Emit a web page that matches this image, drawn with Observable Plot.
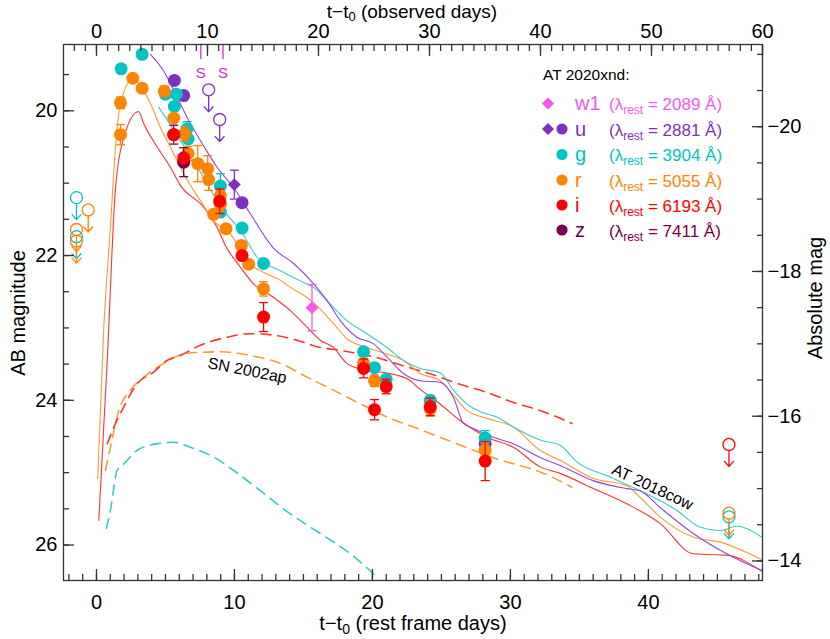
<!DOCTYPE html>
<html>
<head>
<meta charset="utf-8">
<script src="https://cdn.jsdelivr.net/npm/d3@7"></script>
<script src="https://cdn.jsdelivr.net/npm/@observablehq/plot@0.6"></script>
<style>
  html,body{margin:0;padding:0;background:#fff;}
  #chart svg{display:block;}
</style>
</head>
<body>
<div id="chart"></div>
<script>
// ================= DATA =================
const redshift = 0.243;          // AT 2020xnd
const distMod = 40.22;           // AB mag -> absolute mag offset
const xTicksMajor = [0, 10, 20, 30, 40];
const yTicksMajor = [20, 22, 24, 26];
const obsTicksMajor = [0, 10, 20, 30, 40, 50, 60];
const absTicksMajor = [-20, -18, -16, -14];
const spectraObs = [9.4, 11.4];  // observed days of spectra ("S")

const bands = ["w1", "u", "g", "r", "i", "z"];
const lambdas = [2089, 2881, 3904, 5055, 6193, 7411];
const bandColors = ["#ff55ee", "#8030c0", "#00c4c4", "#ff8400", "#ff0000", "#780048"];

// detections: [t - t0 (rest days), AB mag, error]
const w1Obs = [[15.62, 22.72, 0.32]];
const uUvotObs = [[9.99, 21.02, 0.20]];
const uObs = [[5.65, 19.58, 0], [6.32, 19.79, 0], [10.55, 21.27, 0], [28.17, 24.60, 0]];
const gObs = [[1.79, 19.42, 0], [3.31, 19.22, 0], [5.00, 19.77, 0], [5.79, 19.77, 0], [5.65, 19.94, 0],
  [6.57, 20.25, 0.10], [6.64, 20.39, 0], [8.98, 21.04, 0.17], [8.98, 21.40, 0], [10.55, 21.62, 0],
  [12.11, 22.11, 0], [19.36, 23.33, 0], [20.15, 23.55, 0], [21.00, 23.71, 0], [24.19, 24.00, 0],
  [28.17, 24.52, 0.10]];
const rObs = [[1.74, 19.89, 0.08], [1.74, 20.33, 0.14], [2.63, 19.55, 0], [3.31, 19.69, 0.05],
  [4.92, 19.73, 0.07], [5.60, 20.10, 0], [6.39, 20.32, 0.10], [6.64, 20.59, 0.10], [7.34, 20.73, 0.25],
  [8.06, 20.80, 0.18], [8.13, 20.95, 0.15], [8.98, 21.17, 0], [8.98, 21.29, 0.10], [8.49, 21.43, 0],
  [9.39, 21.63, 0], [10.50, 21.86, 0], [11.03, 22.12, 0.05], [12.11, 22.46, 0.10], [19.36, 23.49, 0.05],
  [20.15, 23.73, 0.08], [24.19, 24.12, 0.10], [28.17, 24.69, 0.10]];
const iObs = [[5.60, 20.33, 0], [6.32, 20.65, 0], [8.93, 21.25, 0.17], [10.55, 22.00, 0],
  [12.11, 22.85, 0.20], [19.36, 23.56, 0.13], [20.15, 24.13, 0.14], [21.00, 23.81, 0.10],
  [24.19, 24.09, 0.12], [28.17, 24.84, 0.27]];
const zObs = [[5.60, 20.33, 0.13], [6.32, 20.71, 0.20]];

// upper limits: [t, mag]
const uLim = [[8.13, 19.71], [8.93, 20.12]];
const gLim = [[-1.45, 21.20], [-1.45, 21.74], [45.84, 25.61]];
const rLim = [[-0.60, 21.37], [-1.45, 21.64], [-1.45, 21.80], [45.84, 25.56]];
const iLim = [[45.84, 24.61]];

// AT 2018cow comparison light curves (solid)
const cowU = [[3.91, 19.22], [4.87, 19.45], [5.84, 19.81], [6.81, 20.18], [7.53, 20.41], [8.74, 20.78],
  [9.94, 21.06], [11.14, 21.42], [12.84, 21.90], [14.29, 22.11], [15.74, 22.39], [16.71, 22.62],
  [17.67, 22.90], [18.88, 23.13], [20.08, 23.22], [21.05, 23.40], [22.25, 23.63], [23.46, 23.73],
  [24.91, 23.75], [25.87, 23.96], [26.60, 24.32], [27.32, 24.39], [28.77, 24.51], [30.20, 24.60],
  [32.15, 24.79], [33.60, 24.90], [35.99, 25.11], [38.43, 25.22], [39.39, 25.25], [40.84, 25.48],
  [43.25, 25.84], [45.67, 26.12], [48.20, 26.35]];
const cowG = [[4.51, 19.95], [6.08, 20.41], [7.53, 20.85], [9.22, 21.38], [10.43, 21.65], [11.64, 22.02],
  [13.32, 22.21], [14.77, 22.35], [15.74, 22.44], [16.94, 22.67], [18.15, 22.90], [19.60, 23.08],
  [21.05, 23.27], [22.25, 23.45], [23.46, 23.56], [24.91, 23.62], [25.87, 23.86], [26.84, 24.05],
  [27.81, 24.16], [29.02, 24.23], [30.22, 24.37], [32.15, 24.55], [33.60, 24.62], [34.81, 24.85],
  [37.22, 25.06], [39.63, 25.27], [42.05, 25.52], [43.72, 25.75], [45.17, 25.80], [46.39, 25.74],
  [48.20, 25.89]];
const cowR = [[0.09, 25.08], [0.53, 22.99], [1.01, 21.61], [1.38, 20.50], [1.74, 19.90], [2.63, 19.56],
  [3.31, 19.69], [3.91, 19.90], [4.63, 20.23], [5.36, 20.50], [6.32, 20.87], [7.53, 21.24],
  [8.49, 21.52], [9.70, 21.70], [11.01, 22.10], [12.09, 22.23], [13.32, 22.34], [14.05, 22.44],
  [15.26, 22.58], [16.22, 22.74], [17.18, 22.94], [18.15, 23.15], [19.60, 23.27], [21.05, 23.36],
  [22.25, 23.45], [23.46, 23.63], [24.91, 23.73], [25.87, 23.93], [26.84, 24.14], [28.29, 24.25],
  [30.22, 24.37], [32.15, 24.69], [33.60, 24.83], [36.01, 25.08], [38.43, 25.18], [39.39, 25.34],
  [40.84, 25.61], [43.25, 25.89], [45.21, 25.96], [48.20, 26.20]];
const cowI = [[0.17, 25.66], [0.78, 23.45], [1.38, 21.06], [1.98, 20.37], [3.06, 20.01], [3.43, 20.18],
  [4.40, 20.50], [5.36, 20.78], [6.08, 21.03], [7.77, 21.33], [8.74, 21.61], [9.34, 21.86],
  [10.43, 22.16], [11.39, 22.39], [12.84, 22.58], [14.05, 22.76], [15.26, 22.99], [16.22, 23.17],
  [17.18, 23.27], [18.15, 23.49], [19.60, 23.59], [20.57, 23.61], [22.50, 23.70], [23.46, 23.85],
  [24.77, 24.03], [26.36, 24.28], [28.29, 24.51], [30.22, 24.65], [32.15, 24.92], [33.60, 25.01],
  [36.01, 25.22], [38.43, 25.43], [40.84, 25.70], [43.25, 26.12], [44.22, 26.13], [45.67, 26.14],
  [48.20, 26.36]];

// SN 2002ap comparison light curves (dashed)
const apI = [[0.78, 24.60], [1.38, 24.32], [1.98, 24.09], [2.95, 23.77], [4.15, 23.61], [5.12, 23.45],
  [6.08, 23.38], [7.53, 23.24], [9.22, 23.14], [11.14, 23.08], [12.84, 23.10], [14.53, 23.17],
  [16.22, 23.27], [17.67, 23.31], [20.08, 23.40], [22.50, 23.54], [24.91, 23.68], [25.87, 23.75],
  [28.29, 23.89], [30.22, 24.03], [32.15, 24.14], [34.45, 24.32]];
const apR = [[0.65, 24.97], [1.01, 24.65], [1.62, 24.14], [2.46, 23.86], [3.43, 23.68], [4.63, 23.52],
  [6.57, 23.35], [8.98, 23.33], [11.14, 23.38], [13.32, 23.49], [15.26, 23.68], [17.18, 23.86],
  [19.12, 24.05], [21.05, 24.23], [22.98, 24.37], [26.12, 24.60], [29.02, 24.81], [32.15, 24.99],
  [34.45, 25.20]];
const apG = [[0.72, 25.77], [1.01, 25.52], [1.50, 24.97], [1.98, 24.88], [2.95, 24.69], [4.40, 24.60],
  [5.60, 24.58], [6.81, 24.65], [8.26, 24.76], [9.94, 24.97], [11.88, 25.25], [14.05, 25.57],
  [16.22, 25.84], [18.39, 26.12], [20.44, 26.46]];

// ================= CHART =================
const C = Object.fromEntries(bands.map((b, k) => [b, bandColors[k]]));
const lineCol = {u: "#9444d4", g: "#33cccc", r: "#ff9a30", i: "#ff3030"};
const magenta = "#d030d0";
const FONT = '"Liberation Sans", Arial, Helvetica, sans-serif';
const xDomain = [-2.39, 60 / (1 + redshift)];
const yDomain = [26.49, 19.084];

const capSym = {draw(ctx) { ctx.moveTo(-4.5, 0); ctx.lineTo(4.5, 0); }};
const arrowShape = {draw(ctx, l) {
  ctx.moveTo(0, 0); ctx.lineTo(0, -l);
  ctx.moveTo(-4.5, -l + 5); ctx.lineTo(0, -l); ctx.lineTo(4.5, -l + 5);
}};
const spikeShape = {draw(ctx, l) { ctx.moveTo(0, 0); ctx.lineTo(0, -l); }};

function detections(data, color, symbol = "circle", r = 6.5) {
  const withErr = data.filter(d => d[2] > 0);
  return [
    Plot.ruleX(withErr, {x: d => d[0], y1: d => d[1] - d[2], y2: d => d[1] + d[2], stroke: color, strokeWidth: 1.3}),
    Plot.dot(withErr, {x: d => d[0], y: d => d[1] - d[2], symbol: capSym, r: 3, fill: "none", stroke: color, strokeWidth: 1.3}),
    Plot.dot(withErr, {x: d => d[0], y: d => d[1] + d[2], symbol: capSym, r: 3, fill: "none", stroke: color, strokeWidth: 1.3}),
    Plot.dot(data, {x: d => d[0], y: d => d[1], symbol, r, fill: color, stroke: "none"})
  ];
}
function limits(data, color) {
  return [
    Plot.dot(data, {x: d => d[0], y: d => d[1], r: 6, fill: "none", stroke: color, strokeWidth: 1.3}),
    Plot.vector(data, {x: d => d[0], y: d => d[1], anchor: "start", rotate: 180, length: 16, dy: 6,
      shape: arrowShape, stroke: color, strokeWidth: 1.3})
  ];
}
const curve = (data, color, dashed) => Plot.line(data, {
  x: d => d[0], y: d => d[1], stroke: color, strokeWidth: dashed ? 1.6 : 1.1,
  strokeDasharray: dashed ? "10,7" : null, curve: "monotone-x", clip: true
});

const axisStyle = {stroke: "#333", strokeWidth: 1.3, fontSize: 20, label: null};
const xMinor = d3.range(-2, 49);
const obsMinor = d3.range(-2, 61).map(o => o / (1 + redshift));
const yMinor = d3.range(19.5, 26.01, 0.5);
const absMinor = d3.range(-21, -13.99, 0.5).map(M => M + distMod);
const minusFmt = v => (v < 0 ? "\u2212" + Math.abs(v) : String(v));

const chart = Plot.plot({
  width: 830, height: 639,
  marginLeft: 63, marginRight: 68, marginTop: 44, marginBottom: 59,
  style: {fontFamily: FONT, background: "white", color: "black", overflow: "visible"},
  x: {domain: xDomain},
  y: {domain: yDomain},
  marks: [
    curve(apG, lineCol.g, true),
    curve(apR, lineCol.r, true),
    curve(apI, lineCol.i, true),
    curve(cowI, lineCol.i, false),
    curve(cowR, lineCol.r, false),
    curve(cowG, lineCol.g, false),
    curve(cowU, lineCol.u, false),
    Plot.text(["SN 2002ap"], {x: 10.93, y: 23.59, text: d => d, rotate: 11, fontSize: 16, fill: "black"}),
    Plot.text(["AT 2018cow"], {x: 40.3, y: 25.2, text: d => d, rotate: 25, fontSize: 16, fill: "black"}),
    Plot.vector(spectraObs, {x: d => d / (1 + redshift), frameAnchor: "top", anchor: "start", rotate: 180,
      length: 14, shape: spikeShape, stroke: magenta, strokeWidth: 1.3}),
    Plot.text(spectraObs, {x: d => d / (1 + redshift), frameAnchor: "top", dy: 23, text: () => "S",
      fill: magenta, fontSize: 15}),
    ...limits(uLim, C.u),
    ...limits(gLim, C.g),
    ...limits(rLim, C.r),
    ...limits(iLim, C.i),
    ...detections(uObs, C.u),
    ...detections(uUvotObs, C.u, "diamond2", 5.8),
    ...detections(gObs, C.g),
    ...detections(rObs, C.r),
    ...detections(w1Obs, C.w1, "diamond2", 5.8),
    ...detections(zObs, C.z),
    ...detections(iObs, C.i),
    Plot.frame({stroke: "#333", strokeWidth: 1.3}),
    Plot.axisX(xTicksMajor, {anchor: "bottom", tickSize: -11, tickPadding: 25,
      tickFormat: d => String(d), ...axisStyle}),
    Plot.axisX(xMinor, {anchor: "bottom", tickSize: -6, ...axisStyle, fill: "none"}),
    Plot.axisX(obsTicksMajor.map(o => o / (1 + redshift)), {anchor: "top", tickSize: -11, tickPadding: 18,
      tickFormat: d => String(Math.round(d * (1 + redshift))), ...axisStyle}),
    Plot.axisX(obsMinor, {anchor: "top", tickSize: -6, ...axisStyle, fill: "none"}),
    Plot.axisY(yTicksMajor, {anchor: "left", tickSize: -11, tickPadding: 17,
      tickFormat: d => String(d), ...axisStyle}),
    Plot.axisY(yMinor, {anchor: "left", tickSize: -6, ...axisStyle, fill: "none"}),
    Plot.axisY(absTicksMajor.map(M => M + distMod), {anchor: "right", tickSize: -11, tickPadding: 16,
      tickFormat: d => minusFmt(Math.round(d - distMod)), ...axisStyle}),
    Plot.axisY(absMinor, {anchor: "right", tickSize: -6, ...axisStyle, fill: "none"})
  ]
});
document.getElementById("chart").appendChild(chart);

// ---- titles & legend (text with subscripts) ----
const svg = d3.select(chart);
const g = svg.append("g").attr("font-family", FONT).attr("fill", "black");

function subTitle(sel, sub, rest, subSize, shift) {
  sel.append("tspan").text("t\u2212t");
  sel.append("tspan").attr("font-size", subSize).attr("dy", shift).text(sub);
  sel.append("tspan").attr("dy", -shift).text(rest);
}
subTitle(g.append("text").attr("x", 412).attr("y", 17.5).attr("text-anchor", "middle").attr("font-size", 19),
  "0", " (observed days)", 13, 3);
subTitle(g.append("text").attr("x", 413).attr("y", 630).attr("text-anchor", "middle").attr("font-size", 20),
  "0", " (rest frame days)", 14, 4);
g.append("text").attr("transform", "translate(25,313) rotate(-90)").attr("text-anchor", "middle")
  .attr("font-size", 20).text("AB magnitude");
g.append("text").attr("transform", "translate(822,298) rotate(-90)").attr("text-anchor", "middle")
  .attr("font-size", 20).text("Absolute mag");

// legend
const lg = svg.append("g").attr("font-family", FONT).attr("text-anchor", "start");
lg.append("text").attr("x", 543).attr("y", 80).attr("font-size", 15.5).attr("fill", "black").text("AT 2020xnd:");
const rowY = [103.5, 129, 154.5, 180, 205, 230];
bands.forEach((b, k) => {
  const y = rowY[k], col = bandColors[k];
  if (b === "w1" || b === "u") {
    lg.append("path").attr("transform", `translate(548,${y})`)
      .attr("d", d3.symbol(d3.symbolDiamond2, 92)()).attr("fill", col);
  }
  if (b !== "w1") {
    lg.append("circle").attr("cx", 562).attr("cy", y).attr("r", 5.6).attr("fill", col);
  }
  lg.append("text").attr("x", 575).attr("y", y + 6.5).attr("font-size", 20).attr("fill", col).text(b);
  const t = lg.append("text").attr("x", 609).attr("y", y + 6.5).attr("font-size", 17).attr("fill", col);
  t.append("tspan").text("(\u03bb");
  t.append("tspan").attr("font-size", 12).attr("dy", 4).text("rest");
  t.append("tspan").attr("dy", -4).text(` = ${lambdas[k]} \u00c5)`);
});
</script>
</body>
</html>
